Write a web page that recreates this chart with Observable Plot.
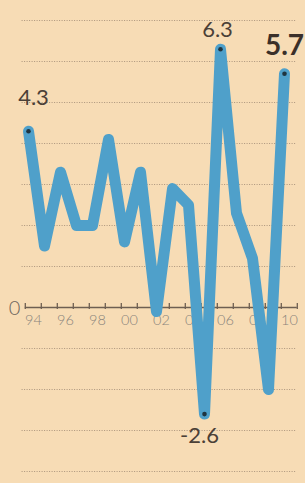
<!DOCTYPE html>
<html>
<head>
<meta charset="utf-8">
<script src="https://cdn.jsdelivr.net/npm/d3@7"></script>
<script src="https://cdn.jsdelivr.net/npm/@observablehq/plot@0.6"></script>
<style>
  html, body { margin: 0; padding: 0; background: #f7dcb5; overflow: hidden; }
  #chart svg { display: block; background: #f7dcb5; }
</style>
</head>
<body>
<div id="chart"></div>
<script>
// Data (annual values)
const years  = [1994, 1995, 1996, 1997, 1998, 1999, 2000, 2001, 2002, 2003, 2004, 2005, 2006, 2007, 2008, 2009, 2010];
const values = [4.3, 1.5, 3.3, 2.0, 2.0, 4.1, 1.6, 3.3, -0.1, 2.9, 2.5, -2.6, 6.3, 2.3, 1.2, -2.0, 5.7];

// Annotated points
const labelYears  = [1994, 2006, 2010, 2005];
const labelTexts  = ["4.3", "6.3", "5.7", "-2.6"];

// Axis
const tickYears  = [1994, 1995, 1996, 1997, 1998, 1999, 2000, 2001, 2002, 2003, 2004, 2005, 2006, 2007, 2008, 2009, 2010, 2011];
const labelTickYears = [1994, 1996, 1998, 2000, 2002, 2004, 2006, 2008, 2010];
const tickLabels = ["94", "96", "98", "00", "02", "04", "06", "08", "10"];
const gridValues = [-4, -3, -2, -1, 1, 2, 3, 4, 5, 6, 7];

const series = years.map((y, i) => ({year: y, value: values[i]}));
const valueOf = y => values[years.indexOf(y)];
const labels = labelYears.map((y, i) => ({year: y, value: valueOf(y), text: labelTexts[i]}));
const ticks = tickLabels.map((t, i) => ({year: labelTickYears[i], text: t}));

const font = "Lato, 'Open Sans', sans-serif";

const chart = Plot.plot({
  width: 305,
  height: 483,
  marginTop: 0, marginBottom: 0, marginLeft: 0, marginRight: 0,
  style: {background: "transparent", fontFamily: font, overflow: "visible"},
  x: {domain: [1994, 2010], range: [28, 284], axis: null},
  y: {domain: [-4, 7], range: [471, 20], axis: null},
  marks: [
    // dotted gridlines
    Plot.ruleY(gridValues, {x1: 1993.6, x2: 2010.7, stroke: "#a08a74", strokeWidth: 1, strokeDasharray: "1,1.5", strokeOpacity: 0.85}),
    // zero axis line
    Plot.ruleY([0], {x1: 1993.8, x2: 2010.8, stroke: "#6e5f52", strokeWidth: 1.5}),
    // tick marks
    Plot.ruleX(tickYears, {y1: 0.1, y2: -0.05, dx: -3.2, stroke: "#6e5f52", strokeWidth: 1.3}),
    // tick labels
    Plot.text(ticks, {x: "year", y: () => 0, text: "text", dx: 5, dy: 13, fontSize: 14.5, fill: "#8a847c", fontWeight: 300}),
    // zero label
    Plot.text([0], {x: () => 1994, y: d => d, text: () => "0", dx: -14, dy: 1, fontSize: 20, fill: "#6e665d", fontWeight: 300}),
    // the line
    Plot.line(series, {x: "year", y: "value", stroke: "#4fa0ca", strokeWidth: 11, strokeLinejoin: "round", strokeLinecap: "round"}),
    // dots at annotated points
    Plot.dot(labels, {x: "year", y: "value", r: 2.3, fill: "#1f3440"}),
    // annotation labels
    Plot.text(labels.filter(d => d.text === "4.3"), {x: "year", y: "value", text: "text", dx: 5, dy: -33, fontSize: 22, fill: "#4b4037"}),
    Plot.text(labels.filter(d => d.text === "6.3"), {x: "year", y: "value", text: "text", dx: -3, dy: -19, fontSize: 22, fill: "#4b4037"}),
    Plot.text(labels.filter(d => d.text === "5.7"), {x: "year", y: "value", text: "text", dx: 0, dy: -28, fontSize: 28, fontWeight: "bold", fill: "#3b3029"}),
    Plot.text(labels.filter(d => d.text === "-2.6"), {x: "year", y: "value", text: "text", dx: -5, dy: 22, fontSize: 22, fill: "#4b4037"})
  ]
});
document.getElementById("chart").appendChild(chart);
</script>
</body>
</html>
